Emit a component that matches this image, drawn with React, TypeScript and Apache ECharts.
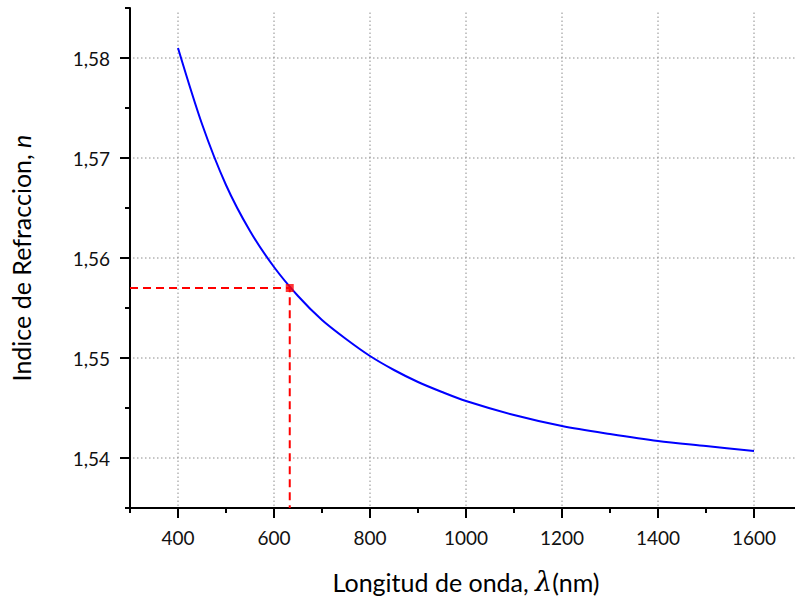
import React, { useEffect, useRef } from "react";
import * as echarts from "echarts";

const wavelengths = [400, 450, 500, 550, 600, 650, 700, 750, 800, 850, 900, 950, 1000, 1100, 1200, 1300, 1400, 1500, 1600];
const nValues = [1.581, 1.5734, 1.5673, 1.5627, 1.5591, 1.5562, 1.5538, 1.5519, 1.5502, 1.5488, 1.5476, 1.5466, 1.5457, 1.5443, 1.5432, 1.5424, 1.5417, 1.5412, 1.5407];

const xMajorTicks = [400, 600, 800, 1000, 1200, 1400, 1600];
const yMajorTicks = [1.54, 1.55, 1.56, 1.57, 1.58];
const xRange = [300, 1700];
const yRange = [1.535, 1.585];

const markerLambda = 632.8;
const markerN = 1.557;

const FONT = "Lato";

export default function App() {
  const ref = useRef<HTMLDivElement>(null);
  useEffect(() => {
    if (!ref.current) return;
    const chart = echarts.init(ref.current, null, { renderer: "svg" });
    const [xMin, xMax] = xRange;
    const [yMin, yMax] = yRange;
    const isXMajor = (v: number) => xMajorTicks.some((t) => Math.abs(t - v) < 1e-6);
    const isYMajor = (v: number) => yMajorTicks.some((t) => Math.abs(t - v) < 1e-6);

    chart.setOption({
      animation: false,
      backgroundColor: "#fff",
      grid: { left: 130, top: 8, height: 500, width: 672, containLabel: false, outerBoundsMode: "none" },
      xAxis: {
        type: "value",
        min: xMin,
        max: xMax,
        interval: 100,
        name: "{t|Longitud de onda, }{l|λ}{t|(nm)}",
        nameLocation: "middle",
        nameGap: 60,
        nameTextStyle: {
          rich: {
            t: { fontFamily: FONT, fontSize: 25, color: "#000" },
            l: { fontFamily: "DejaVu Serif", fontStyle: "italic", fontSize: 27, color: "#000" },
          },
        },
        axisLine: { show: true, onZero: false, lineStyle: { color: "#000", width: 2 } },
        axisTick: { show: true, inside: false, length: 5, lineStyle: { color: "#000", width: 2 } },
        axisLabel: {
          margin: 20,
          fontFamily: FONT,
          fontSize: 19,
          color: "#111",
          formatter: (v: number) => (isXMajor(v) ? String(Math.round(v)) : ""),
        },
        splitLine: { show: false },
      },
      yAxis: {
        type: "value",
        min: yMin,
        max: yMax,
        interval: 0.005,
        name: "{t|Indice de Refraccion, }{n|n}",
        nameLocation: "middle",
        nameGap: 97,
        nameTextStyle: {
          rich: {
            t: { fontFamily: FONT, fontSize: 25, color: "#000" },
            n: { fontFamily: FONT, fontStyle: "italic", fontSize: 25, color: "#000" },
          },
        },
        axisLine: { show: true, onZero: false, lineStyle: { color: "#000", width: 2 } },
        axisTick: { show: true, inside: false, length: 5, lineStyle: { color: "#000", width: 2 } },
        axisLabel: {
          margin: 20,
          fontFamily: FONT,
          fontSize: 19,
          color: "#111",
          formatter: (v: number) => (isYMajor(v) ? v.toFixed(2).replace(".", ",") : ""),
        },
        splitLine: { show: false },
      },
      series: [
        {
          type: "custom",
          name: "xgrid",
          silent: true,
          z: 1,
          clip: false,
          data: xMajorTicks.map((v) => [v, yMin]),
          encode: { x: 0, y: 1 },
          renderItem: (params: any, api: any) => {
            const v = api.value(0);
            const bot = api.coord([v, yMin]);
            const top = api.coord([v, yMax]);
            return {
              type: "group",
              children: [
                {
                  type: "line",
                  shape: { x1: bot[0], y1: bot[1] - 2, x2: top[0], y2: top[1] + 4 },
                  style: { stroke: "#8c8c8c", lineWidth: 1, lineDash: [1.5, 2.5] },
                },
                {
                  type: "line",
                  shape: { x1: bot[0], y1: bot[1], x2: bot[0], y2: bot[1] + 10 },
                  style: { stroke: "#000", lineWidth: 2 },
                },
              ],
            };
          },
        },
        {
          type: "custom",
          name: "ygrid",
          silent: true,
          z: 1,
          clip: false,
          data: yMajorTicks.map((v) => [xMin, v]),
          encode: { x: 0, y: 1 },
          renderItem: (params: any, api: any) => {
            const v = api.value(1);
            const left = api.coord([xMin, v]);
            const right = api.coord([xMax, v]);
            return {
              type: "group",
              children: [
                {
                  type: "line",
                  shape: { x1: left[0] + 3, y1: left[1], x2: right[0], y2: right[1] },
                  style: { stroke: "#8c8c8c", lineWidth: 1, lineDash: [1.5, 2.5] },
                },
                {
                  type: "line",
                  shape: { x1: left[0] - 10, y1: left[1], x2: left[0], y2: left[1] },
                  style: { stroke: "#000", lineWidth: 2 },
                },
              ],
            };
          },
        },
        {
          type: "line",
          name: "n",
          z: 3,
          smooth: 0.3,
          showSymbol: false,
          symbol: "none",
          lineStyle: { color: "#0000ff", width: 2 },
          data: wavelengths.map((w, i) => [w, nValues[i]]),
        },
        {
          type: "line",
          name: "guide",
          z: 4,
          showSymbol: false,
          symbol: "none",
          clip: false,
          lineStyle: { color: "#ff0000", width: 2, type: [8, 5] },
          data: [
            [xMin, markerN],
            [markerLambda, markerN],
            [markerLambda, yMin],
          ],
        },
        {
          type: "scatter",
          name: "marker",
          z: 5,
          symbol: "rect",
          symbolSize: 8,
          itemStyle: { color: "#ff0000" },
          data: [[markerLambda, markerN]],
        },
      ],
    });
    return () => chart.dispose();
  }, []);
  return (
    <div
      ref={ref}
      style={{ position: "fixed", left: 0, top: 0, width: 795, height: 603, background: "#fff" }}
    />
  );
}
